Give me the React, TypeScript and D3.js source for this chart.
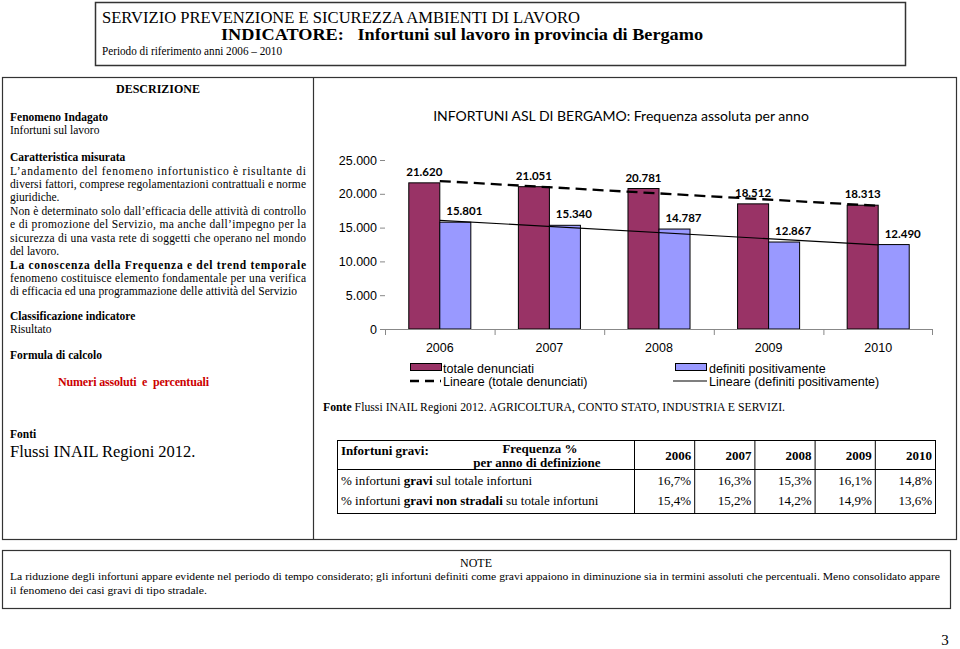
import React from "react";
import * as d3 from "d3";

const years = ["2006", "2007", "2008", "2009", "2010"];
const totaleDenunciati = [21620, 21051, 20781, 18512, 18313];
const definitiPositivamente = [15801, 15340, 14787, 12867, 12490];
const yTicks = [0, 5000, 10000, 15000, 20000, 25000];

const tableYears = ["2006", "2007", "2008", "2009", "2010"];
const graviTotale = ["16,7%", "16,3%", "15,3%", "16,1%", "14,8%"];
const graviNonStradali = ["15,4%", "15,2%", "14,2%", "14,9%", "13,6%"];

const MAROON = "#993366";
const BLUE = "#9999FF";
const SERIF = "'Liberation Serif', 'Times New Roman', serif";
const SANS = "'Liberation Sans', Arial, sans-serif";
const CAL = "Lato, 'Open Sans', sans-serif";

const it = d3.formatLocale({ decimal: ",", thousands: ".", grouping: [3], currency: ["", "€"] });
const fmt = it.format(",");

function regression(vals: number[]) {
  const n = vals.length;
  const xs = vals.map((_, i) => i + 1);
  const mx = d3.mean(xs) as number;
  const my = d3.mean(vals) as number;
  let sxy = 0, sxx = 0;
  xs.forEach((x, i) => { sxy += (x - mx) * (vals[i] - my); sxx += (x - mx) * (x - mx); });
  const b = sxy / sxx;
  const a = my - b * mx;
  return [a + b * 1, a + b * n];
}

type JProps = { x: number; y: number; w?: number; bold?: boolean; children: React.ReactNode; size?: number };
function JLine({ x, y, w, bold, children, size = 11.5 }: JProps) {
  const extra: any = w ? { textLength: w, lengthAdjust: "spacing" } : {};
  return (
    <text x={x} y={y} fontFamily={SERIF} fontSize={size} fontWeight={bold ? "bold" : "normal"} {...extra}>
      {children}
    </text>
  );
}

export default function App() {
  const x = d3.scaleBand<string>().domain(years).range([385, 933]).paddingInner(0).paddingOuter(0);
  const y = d3.scaleLinear().domain([0, 25000]).range([329, 160]);
  const bw = x.bandwidth() * 0.283;
  const cx = (yr: string) => (x(yr) as number) + x.bandwidth() / 2;

  const tTot = regression(totaleDenunciati);
  const tDef = regression(definitiPositivamente);
  const line = d3.line<[number, number]>().x((d) => d[0]).y((d) => d[1]);
  const x0 = cx(years[0]);
  const x1 = cx(years[years.length - 1]);

  // table geometry
  const tL = 337, tR = 935, tTop = 440, tHead = 469, tBot = 513;
  const firstColR = 634;
  const colW = (tR - firstColR) / tableYears.length;

  const L = 10, W = 296;

  return (
    <svg width={960} height={649} style={{ position: "absolute", left: 0, top: 0, background: "#fff" }}>
      <rect x={0} y={0} width={960} height={649} fill="#fff" />

      {/* Header box */}
      <rect x={95.5} y={2.5} width={810} height={63} fill="none" stroke="#333" strokeWidth={1.5} />
      <text x={102} y={23} fontFamily={SERIF} fontSize={16} textLength={478} lengthAdjust="spacingAndGlyphs">
        SERVIZIO PREVENZIONE E SICUREZZA AMBIENTI DI LAVORO
      </text>
      <text x={221} y={40} fontFamily={SERIF} fontSize={16} fontWeight="bold" textLength={482} lengthAdjust="spacingAndGlyphs" xmlSpace="preserve">
        INDICATORE:   Infortuni sul lavoro in provincia di Bergamo
      </text>
      <text x={102} y={55} fontFamily={SERIF} fontSize={13} textLength={180} lengthAdjust="spacingAndGlyphs">
        Periodo di riferimento anni 2006 – 2010
      </text>

      {/* Main box */}
      <rect x={2.5} y={77.5} width={954} height={462} fill="none" stroke="#333" strokeWidth={1.2} />
      <line x1={313.5} x2={313.5} y1={77.5} y2={539.5} stroke="#333" strokeWidth={1.2} />

      {/* Left panel */}
      <text x={158} y={93} textAnchor="middle" fontFamily={SERIF} fontSize={12} fontWeight="bold">DESCRIZIONE</text>
      <JLine x={L} y={121} bold>Fenomeno Indagato</JLine>
      <JLine x={L} y={134}>Infortuni sul lavoro</JLine>
      <JLine x={L} y={161} bold>Caratteristica misurata</JLine>
      <JLine x={L} y={175} w={W}>L’andamento del fenomeno infortunistico è risultante di</JLine>
      <JLine x={L} y={188} w={W}>diversi fattori, comprese regolamentazioni contrattuali e norme</JLine>
      <JLine x={L} y={201}>giuridiche.</JLine>
      <JLine x={L} y={215} w={W}>Non è determinato solo dall’efficacia delle attività di controllo</JLine>
      <JLine x={L} y={228} w={W}>e di promozione del Servizio, ma anche dall’impegno per la</JLine>
      <JLine x={L} y={242} w={W}>sicurezza di una vasta rete di soggetti che operano nel mondo</JLine>
      <JLine x={L} y={255}>del lavoro.</JLine>
      <JLine x={L} y={269} w={W} bold>La conoscenza della Frequenza e del trend temporale</JLine>
      <JLine x={L} y={282} w={W}>fenomeno costituisce elemento fondamentale per una verifica</JLine>
      <JLine x={L} y={295} w={287}>di efficacia ed una programmazione delle attività del Servizio</JLine>
      <JLine x={L} y={320} bold>Classificazione indicatore</JLine>
      <JLine x={L} y={333}>Risultato</JLine>
      <JLine x={L} y={359} bold>Formula  di calcolo</JLine>
      <text x={58} y={386} fontFamily={SERIF} fontSize={12} fontWeight="bold" fill="#CC0000" xmlSpace="preserve" textLength={151} lengthAdjust="spacing">
        Numeri assoluti  e  percentuali
      </text>
      <JLine x={L} y={438} bold>Fonti</JLine>
      <text x={L} y={457} fontFamily={SERIF} fontSize={16.5}>Flussi INAIL Regioni 2012.</text>

      {/* Chart title */}
      <text x={621} y={121} textAnchor="middle" fontFamily={CAL} fontSize={14}>
        INFORTUNI ASL DI BERGAMO: Frequenza assoluta per anno
      </text>

      {/* Y axis ticks */}
      {yTicks.map((t) => (
        <g key={t}>
          <line x1={380} x2={385} y1={y(t) + 0.5} y2={y(t) + 0.5} stroke="#888" />
          <text x={377} y={y(t) + 4.5} textAnchor="end" fontFamily={SANS} fontSize={12.5}>
            {fmt(t)}
          </text>
        </g>
      ))}

      {/* Bars */}
      {years.map((yr, i) => (
        <g key={yr}>
          <rect x={cx(yr) - bw} y={y(totaleDenunciati[i])} width={bw} height={y(0) - y(totaleDenunciati[i])}
            fill={MAROON} stroke="#000" strokeWidth={1} />
          <rect x={cx(yr)} y={y(definitiPositivamente[i])} width={bw} height={y(0) - y(definitiPositivamente[i])}
            fill={BLUE} stroke="#000" strokeWidth={1} />
        </g>
      ))}

      {/* X axis */}
      <line x1={385} x2={933} y1={329.5} y2={329.5} stroke="#888" />
      {years.map((yr) => (
        <line key={"t" + yr} x1={(x(yr) as number) + 0.5} x2={(x(yr) as number) + 0.5} y1={329} y2={335} stroke="#888" />
      ))}
      <line x1={932.5} x2={932.5} y1={329} y2={335} stroke="#888" />
      {years.map((yr) => (
        <text key={"l" + yr} x={cx(yr)} y={352} textAnchor="middle" fontFamily={SANS} fontSize={12.5}>{yr}</text>
      ))}

      {/* Trend lines */}
      <path d={line([[x0, y(tTot[0])], [x1, y(tTot[1])]]) as string} stroke="#000" strokeWidth={2.3} strokeDasharray="11,6" fill="none" />
      <path d={line([[x0, y(tDef[0])], [x1, y(tDef[1])]]) as string} stroke="#000" strokeWidth={1.1} fill="none" />

      {/* Data labels */}
      {years.map((yr, i) => (
        <g key={"d" + yr} fontFamily={CAL} fontSize={11.5} fontWeight="bold">
          <text x={cx(yr) - bw / 2} y={y(totaleDenunciati[i]) - 7} textAnchor="middle">{fmt(totaleDenunciati[i])}</text>
          <text x={cx(yr) + bw / 2 + 9} y={y(definitiPositivamente[i]) - 7} textAnchor="middle">{fmt(definitiPositivamente[i])}</text>
        </g>
      ))}

      {/* Legend */}
      <rect x={410.5} y={363.5} width={31} height={7} fill={MAROON} stroke="#000" />
      <text x={443} y={372.5} fontFamily={SANS} fontSize={12.5}>totale denunciati</text>
      <line x1={410} x2={441} y1={381} y2={381} stroke="#000" strokeWidth={2.3} strokeDasharray="9,6" />
      <text x={443} y={385.5} fontFamily={SANS} fontSize={12.5}>Lineare (totale denunciati)</text>
      <rect x={675.5} y={363.5} width={31} height={7} fill={BLUE} stroke="#000" />
      <text x={709} y={372.5} fontFamily={SANS} fontSize={12.5}>definiti positivamente</text>
      <line x1={673} x2={707} y1={381} y2={381} stroke="#000" strokeWidth={1.1} />
      <text x={709} y={385.5} fontFamily={SANS} fontSize={12.5}>Lineare (definiti positivamente)</text>

      {/* Fonte */}
      <text x={323} y={411} fontFamily={SERIF} fontSize={12} textLength={462} lengthAdjust="spacingAndGlyphs">
        <tspan fontWeight="bold">Fonte</tspan> Flussi INAIL Regioni 2012. AGRICOLTURA, CONTO STATO, INDUSTRIA E SERVIZI.
      </text>

      {/* Table */}
      <rect x={tL + 0.5} y={tTop + 0.5} width={tR - tL} height={tBot - tTop} fill="none" stroke="#000" strokeWidth={1} />
      <line x1={tL} x2={tR} y1={tHead + 0.5} y2={tHead + 0.5} stroke="#000" />
      {[firstColR, ...tableYears.slice(1).map((_, i) => firstColR + colW * (i + 1))].map((cxv, i) => (
        <line key={"v" + i} x1={cxv + 0.5} x2={cxv + 0.5} y1={tTop} y2={tBot} stroke="#000" />
      ))}
      <text x={341} y={455} fontFamily={SERIF} fontSize={13} fontWeight="bold">Infortuni gravi:</text>
      <text x={540} y={453} textAnchor="middle" fontFamily={SERIF} fontSize={13} fontWeight="bold">Frequenza %</text>
      <text x={537} y={467} textAnchor="middle" fontFamily={SERIF} fontSize={13} fontWeight="bold">per anno di definizione</text>
      {tableYears.map((yr, i) => (
        <text key={"h" + yr} x={firstColR + colW * (i + 1) - 3} y={460} textAnchor="end" fontFamily={SERIF} fontSize={13} fontWeight="bold">{yr}</text>
      ))}
      <text x={341} y={485} fontFamily={SERIF} fontSize={13}>
        % infortuni <tspan fontWeight="bold">gravi</tspan> sul totale infortuni
      </text>
      <text x={341} y={505} fontFamily={SERIF} fontSize={13}>
        % infortuni <tspan fontWeight="bold">gravi non stradali</tspan> su totale infortuni
      </text>
      {graviTotale.map((v, i) => (
        <text key={"r1" + i} x={firstColR + colW * (i + 1) - 3} y={485} textAnchor="end" fontFamily={SERIF} fontSize={13}>{v}</text>
      ))}
      {graviNonStradali.map((v, i) => (
        <text key={"r2" + i} x={firstColR + colW * (i + 1) - 3} y={505} textAnchor="end" fontFamily={SERIF} fontSize={13}>{v}</text>
      ))}

      {/* Note box */}
      <rect x={2.5} y={550.5} width={948} height={58} fill="none" stroke="#333" strokeWidth={1.2} />
      <text x={476} y={567} textAnchor="middle" fontFamily={SERIF} fontSize={12}>NOTE</text>
      <text x={10} y={580} fontFamily={SERIF} fontSize={10.5} textLength={930} lengthAdjust="spacingAndGlyphs">
        La riduzione degli infortuni appare evidente nel periodo di tempo considerato; gli infortuni definiti come gravi appaiono in diminuzione sia in termini assoluti che percentuali. Meno consolidato appare
      </text>
      <text x={10} y={594} fontFamily={SERIF} fontSize={10.5} textLength={197} lengthAdjust="spacingAndGlyphs">
        il fenomeno dei casi gravi di tipo stradale.
      </text>

      <text x={945} y={645} textAnchor="middle" fontFamily={SERIF} fontSize={15}>3</text>
    </svg>
  );
}
